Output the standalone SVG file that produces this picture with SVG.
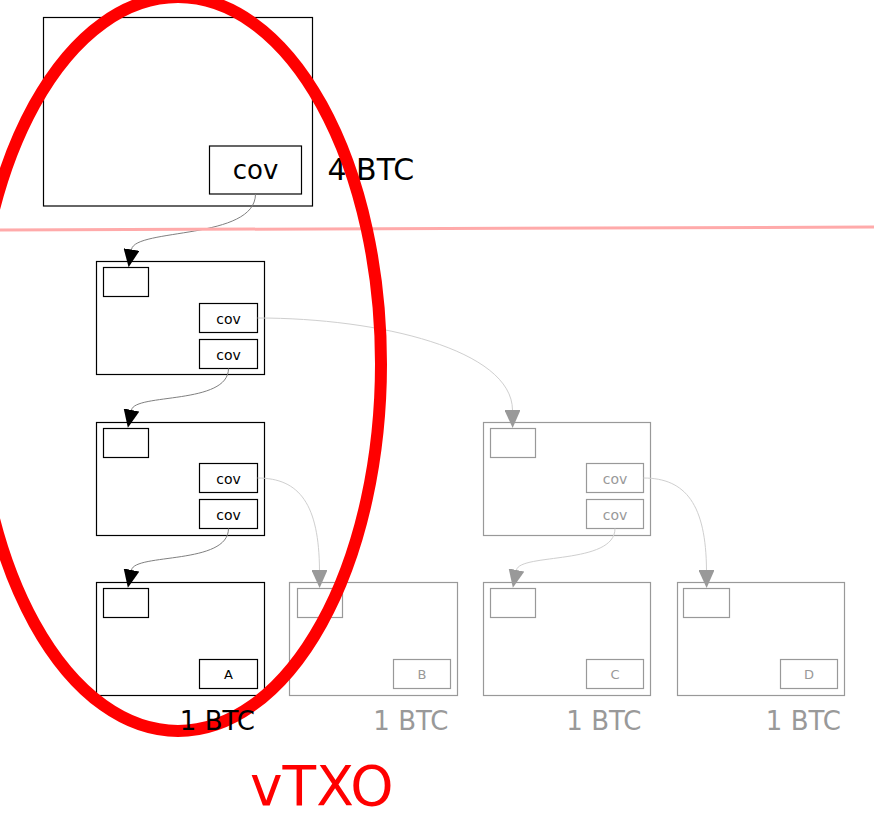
<svg xmlns="http://www.w3.org/2000/svg" width="874" height="825" viewBox="0 0 874 825">
<defs>
<style>
.bx{fill:#fff;stroke:#000;stroke-width:1.2}
.gbx{fill:#fff;stroke:#999;stroke-width:1.2}
.t{font-family:"DejaVu Sans","Liberation Sans",sans-serif;text-anchor:middle;fill:#000}
.gt{font-family:"DejaVu Sans","Liberation Sans",sans-serif;text-anchor:middle;fill:#999}
.lbl{font-family:"DejaVu Sans","Liberation Sans",sans-serif;font-size:26px;text-anchor:end}
.c{fill:none;stroke:#808080;stroke-width:1}
.gc{fill:none;stroke:#cfcfcf;stroke-width:1}
</style>
<marker id="ab" viewBox="0 0 18 16" refX="0" refY="8" markerWidth="18" markerHeight="16" markerUnits="userSpaceOnUse" orient="auto"><path d="M0,0 L18,8 L0,16 z" fill="#000"/></marker>
<marker id="ag" viewBox="0 0 18 16" refX="0" refY="8" markerWidth="18" markerHeight="16" markerUnits="userSpaceOnUse" orient="auto"><path d="M0,0 L18,8 L0,16 z" fill="#999"/></marker>
</defs>
<rect width="874" height="825" fill="#fff"/>

<g id="n0">
<rect class="bx" x="43.5" y="17.5" width="269" height="188.5"/>
<rect class="bx" x="209.5" y="146" width="92" height="48"/>
<text class="t" x="255.5" y="179" font-size="26">cov</text>
</g>
<g id="lbl-4btc"><text x="327.5" y="180" font-family="DejaVu Sans, Liberation Sans, sans-serif" font-size="30" fill="#000">4 BTC</text></g>

<g id="n1">
<rect class="bx" x="96.5" y="261.5" width="168" height="113"/>
<rect class="bx" x="103.5" y="267.5" width="45" height="29"/>
<rect class="bx" x="199.5" y="303.5" width="58" height="29"/>
<rect class="bx" x="199.5" y="339.5" width="58" height="29"/>
<text class="t" x="228.5" y="323.5" font-size="14">cov</text>
<text class="t" x="228.5" y="359.5" font-size="14">cov</text>
</g>

<g id="n2">
<rect class="bx" x="96.5" y="422.5" width="168" height="113"/>
<rect class="bx" x="103.5" y="428.5" width="45" height="29"/>
<rect class="bx" x="199.5" y="463.5" width="58" height="29"/>
<rect class="bx" x="199.5" y="499.5" width="58" height="29"/>
<text class="t" x="228.5" y="483.5" font-size="14">cov</text>
<text class="t" x="228.5" y="519.5" font-size="14">cov</text>
</g>

<g id="n2b">
<rect class="gbx" x="483.5" y="422.5" width="167" height="113"/>
<rect class="gbx" x="490.5" y="428.5" width="45" height="29"/>
<rect class="gbx" x="586.5" y="463.5" width="57" height="29"/>
<rect class="gbx" x="586.5" y="499.5" width="57" height="29"/>
<text class="gt" x="615" y="483.5" font-size="14">cov</text>
<text class="gt" x="615" y="519.5" font-size="14">cov</text>
</g>

<g id="nA">
<rect class="bx" x="96.5" y="582.5" width="168" height="113"/>
<rect class="bx" x="103.5" y="588.5" width="45" height="29"/>
<rect class="bx" x="199.5" y="659.5" width="58" height="29"/>
<text class="t" x="228.5" y="678.5" font-size="13">A</text>
</g>

<g id="nB">
<rect class="gbx" x="289.5" y="582.5" width="168" height="113"/>
<rect class="gbx" x="297.5" y="588.5" width="45" height="29"/>
<rect class="gbx" x="393.5" y="659.5" width="57" height="29"/>
<text class="gt" x="422" y="678.5" font-size="13">B</text>
</g>

<g id="nC">
<rect class="gbx" x="483.5" y="582.5" width="167" height="113"/>
<rect class="gbx" x="490.5" y="588.5" width="45" height="29"/>
<rect class="gbx" x="586.5" y="659.5" width="57" height="29"/>
<text class="gt" x="615" y="678.5" font-size="13">C</text>
</g>

<g id="nD">
<rect class="gbx" x="677.5" y="582.5" width="167" height="113"/>
<rect class="gbx" x="683.5" y="588.5" width="46" height="29"/>
<rect class="gbx" x="780.5" y="659.5" width="57" height="29"/>
<text class="gt" x="809" y="678.5" font-size="13">D</text>
</g>

<g id="connectors">
<path class="c" d="M255.5,194 C255.5,240 135,228 131.5,249.5" marker-end="url(#ab)"/>
<path class="c" d="M228.5,368.5 C228.5,405 135,393 131.5,410" marker-end="url(#ab)"/>
<path class="c" d="M228.5,528.5 C228.5,565 135,553 131.5,570" marker-end="url(#ab)"/>
<path class="gc" d="M257.5,318 C380,318 512,350 512.5,410" marker-end="url(#ag)"/>
<path class="gc" d="M257.5,478 C300,478 319,505 319.5,570" marker-end="url(#ag)"/>
<path class="gc" d="M643.5,478 C686,478 706,505 706.5,570" marker-end="url(#ag)"/>
<path class="gc" d="M615,528.5 C615,565 520,553 516.5,570" marker-end="url(#ag)"/>
</g>

<g id="divider"><line x1="0" y1="230" x2="874" y2="227" stroke="#ffaaaa" stroke-width="3"/></g>

<g id="vtxo-ellipse"><ellipse cx="178" cy="364" rx="203" ry="367" fill="none" stroke="#ff0000" stroke-width="12"/></g>

<g id="amounts">
<text class="lbl" x="255" y="730" fill="#000">1 BTC</text>
<text class="lbl" x="448.5" y="730" fill="#999">1 BTC</text>
<text class="lbl" x="641.5" y="730" fill="#999">1 BTC</text>
<text class="lbl" x="841" y="730" fill="#999">1 BTC</text>
</g>

<text x="250" y="805" font-family="DejaVu Sans, Liberation Sans, sans-serif" font-size="55" fill="#ff0000">vTXO</text>
</svg>
